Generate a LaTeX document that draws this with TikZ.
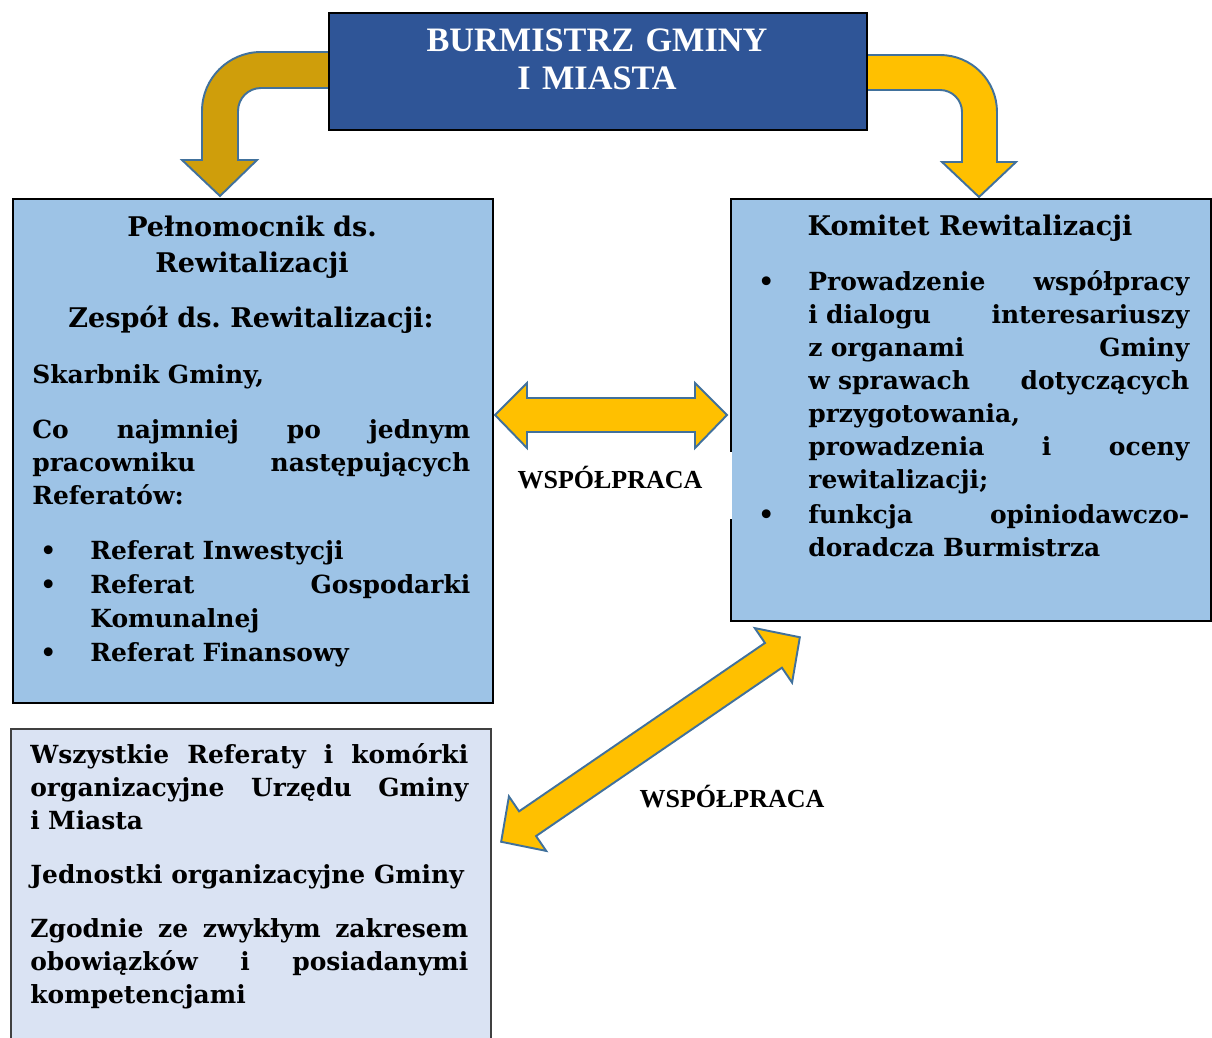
\documentclass[tikz,border=0pt]{standalone}
\usepackage{fontspec}
\setmainfont{DejaVu Serif}
\newfontfamily\titlefont{Liberation Serif}
\usetikzlibrary{positioning,calc}

\definecolor{burmblue}{HTML}{2F5597}
\definecolor{boxblue}{HTML}{9DC3E6}
\definecolor{paleblue}{HTML}{DAE3F3}
\definecolor{arrowgold}{HTML}{FFC000}
\definecolor{darkgold}{HTML}{CF9E0B}
\definecolor{arrowedge}{HTML}{41719C}

\newcommand{\itembul}{\leavevmode\llap{\makebox[1.0cm][l]{\textbullet}}}

\tikzset{
  orgbox/.style={draw=black, line width=1.1pt, anchor=north west, inner sep=0pt},
  boxtext/.style={anchor=base west, inner sep=0pt, align=left,
    font=\frenchspacing\bfseries\fontsize{14.2}{18.8}\selectfont},
  boxtitle/.style={boxtext, anchor=base, align=center,
    font=\frenchspacing\bfseries\fontsize{15.4}{20.5}\selectfont},
  blockarrow/.style={fill=arrowgold, draw=arrowedge, line width=1.1pt},
  wsplabel/.style={anchor=base, inner sep=0pt,
    font=\titlefont\bfseries\fontsize{14.8}{17}\selectfont}
}

\begin{document}
\begin{tikzpicture}[x=0.02cm, y=-0.02cm]
  \useasboundingbox (0,0) rectangle (1212,1037);

  % bent arrows from the mayor
  \draw[blockarrow, fill=darkgold] (330,52) -- (261,52)
    arc[start angle=90, end angle=180, radius=1.18cm] -- (202,160) -- (182,160)
    -- (220,196) -- (257,160) -- (238,160) -- (238,111)
    arc[start angle=180, end angle=90, radius=0.46cm] -- (330,88) -- cycle;
  \draw[blockarrow] (864,55) -- (940,55)
    arc[start angle=90, end angle=0, radius=1.14cm] -- (997,162) -- (1016,162)
    -- (979,197) -- (942,162) -- (962,162) -- (962,112)
    arc[start angle=0, end angle=90, radius=0.44cm] -- (864,90) -- cycle;

  % mayor
  \node[orgbox, fill=burmblue, minimum width=10.76cm, minimum height=2.34cm] (burmistrz) at (328,12) {};
  \node[anchor=base, inner sep=0pt, align=center, text width=10cm, text=white,
    font=\titlefont\bfseries\fontsize{19.5}{21.6}\selectfont] (burmtxt) at (597,52) {BURMISTRZ GMINY\\I MIASTA};

  % plenipotentiary and team
  \node[orgbox, fill=boxblue, minimum width=9.6cm, minimum height=10.08cm] (pelnom) at (12,198) {};
  \node[boxtitle, text width=9cm] (pelnomtitle) at (252,236) {Pełnomocnik ds.\\Rewitalizacji};
  \node[boxtitle] (zespol) at (251,327) {Zespół ds. Rewitalizacji:};
  \node[boxtext] (skarbnik) at (32,383) {Skarbnik Gminy,};
  \node[boxtext, text width=8.76cm] (conajmniej) at (32,438)
    {Co\hfill najmniej\hfill po\hfill jednym\\ pracowniku\hfill następujących\\ Referatów:};
  \node[boxtext, text width=7.6cm, font=\frenchspacing\bfseries\fontsize{14.2}{19.4}\selectfont] (referaty) at (90,559)
    {\itembul Referat Inwestycji\\ \itembul Referat\hfill Gospodarki\\ Komunalnej\\ \itembul Referat Finansowy};

  % committee
  \node[orgbox, fill=boxblue, minimum width=9.6cm, minimum height=8.44cm] (komitet) at (730,198) {};
  \node[boxtitle] (komitettitle) at (970,235) {Komitet Rewitalizacji};
  \node[boxtext, text width=7.62cm] (zadania) at (808,290)
    {\itembul Prowadzenie\hfill współpracy\\ i~dialogu\hfill interesariuszy\\ z~organami\hfill Gminy\\
     w~sprawach\hfill dotyczących\\ przygotowania,\\ prowadzenia\hfill i\hfill oceny\\ rewitalizacji;\\[1.4pt]
     \itembul funkcja\hfill opiniodawczo-\\ doradcza Burmistrza};

  % all units
  \node[orgbox, draw=black!75, fill=paleblue, minimum width=9.6cm, minimum height=6.6cm] (jednostki) at (10,728) {};
  \node[boxtext, text width=8.76cm] (wszystkie) at (30,763)
    {Wszystkie\hfill Referaty\hfill i\hfill komórki\\ organizacyjne\hfill Urzędu\hfill Gminy\\ i~Miasta};
  \node[boxtext] (jednorg) at (30,883) {Jednostki organizacyjne Gminy};
  \node[boxtext, text width=8.76cm] (zgodnie) at (30,937)
    {Zgodnie\hfill ze\hfill zwykłym\hfill zakresem\\ obowiązków\hfill i\hfill posiadanymi\\ kompetencjami};

  % cooperation arrows
  \draw[blockarrow] (495,415) -- (527,383) -- (527,398) -- (695,398) -- (695,383) -- (727,415)
    -- (695,448) -- (695,432) -- (527,432) -- (527,448) -- cycle;
  \begin{scope}[shift={(650.5,739.5)}, rotate=34.4]
    \draw[blockarrow] (-181,0) -- (-149,33) -- (-149,15) -- (149,15) -- (149,33) -- (181,0)
      -- (149,-33) -- (149,-15) -- (-149,-15) -- (-149,-33) -- cycle;
  \end{scope}

  \fill[white] (496,452) rectangle (731.5,519);
  \node[wsplabel] (wsp1) at (610,488) {WSPÓŁPRACA};
  \node[wsplabel] (wsp2) at (732,807) {WSPÓŁPRACA};
\end{tikzpicture}
\end{document}
